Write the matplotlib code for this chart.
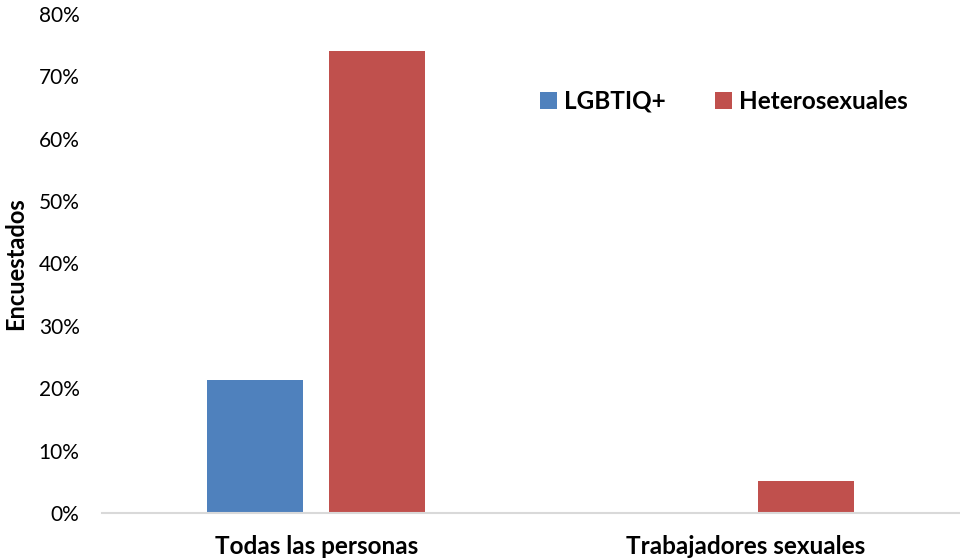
import numpy as np
import matplotlib
matplotlib.use("Agg")
import matplotlib.pyplot as plt
from matplotlib.ticker import PercentFormatter

categories = ["Todas las personas", "Trabajadores sexuales"]
lgbtiq = [21.3, 0.0]
hetero = [74.0, 5.1]

plt.rcParams['font.family'] = ['Lato', 'DejaVu Sans']

fig = plt.figure(figsize=(9.6, 5.6), dpi=100)
ax = fig.add_axes([0.106, 0.084, 0.894, 0.891])

x = np.arange(len(categories))
w = 0.224
off = 0.142
ax.bar(x - off, lgbtiq, w, color="#4f81bd", label="LGBTIQ+")
ax.bar(x + off, hetero, w, color="#c0504d", label="Heterosexuales")

ax.set_xlim(-0.5, 1.5)
ax.set_ylim(0, 80)
ax.set_yticks(np.arange(0, 81, 10))
ax.yaxis.set_major_formatter(PercentFormatter(decimals=0))
ax.set_xticks(x)
ax.set_xticklabels(categories, fontsize=17.5, fontweight="bold")
ax.tick_params(axis="y", length=0, labelsize=15, pad=16, colors="#000000")
ax.tick_params(axis="x", length=0, pad=16)

for s in ["top", "right", "left"]:
    ax.spines[s].set_visible(False)
ax.spines["bottom"].set_color("#d9d9d9")
ax.spines["bottom"].set_linewidth(1.5)

ax.set_ylabel("Encuestados", fontsize=17, fontweight="bold", labelpad=8)

ax.legend(loc="center left", bbox_to_anchor=(0.485, 0.825), ncol=2, frameon=False,
          prop={"weight": "bold", "size": 17.5}, handlelength=0.7, handleheight=0.7,
          columnspacing=2.0, handletextpad=0.3)

fig.savefig("out.png", dpi=100)
